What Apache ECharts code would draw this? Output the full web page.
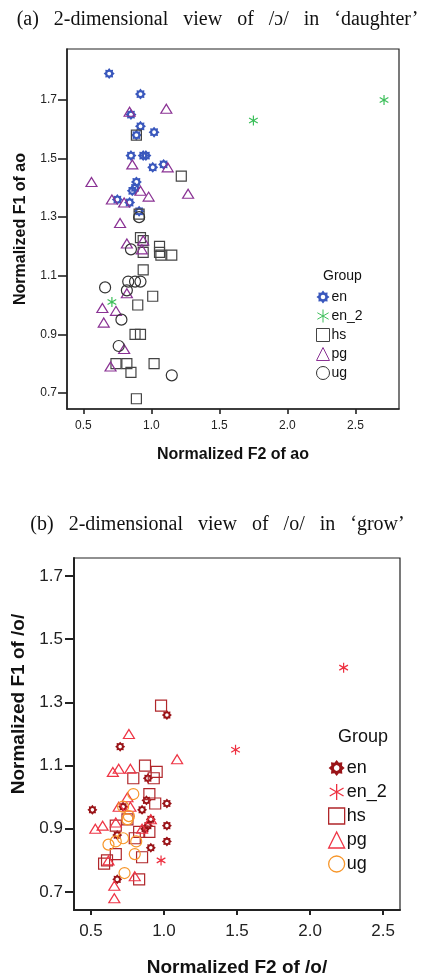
<!DOCTYPE html>
<html><head><meta charset="utf-8">
<script src="https://cdn.jsdelivr.net/npm/echarts@6/dist/echarts.min.js"></script>
<style>html,body{margin:0;padding:0;background:#fff}#c{width:435px;height:973px}</style>
</head><body><div id="c"></div>
<script>
// ---- data: chart (a) /ɔ/ in 'daughter' ----
var groups = ['en', 'en_2', 'hs', 'pg', 'ug'];
var a_en = [[0.69,1.79],[0.92,1.72],[0.85,1.65],[0.92,1.61],[1.02,1.59],[0.89,1.58],[0.85,1.51],[0.94,1.51],[0.96,1.51],[1.09,1.48],[1.01,1.47],[0.89,1.42],[0.88,1.40],[0.86,1.39],[0.75,1.36],[0.84,1.35],[0.91,1.32]];
var a_en2 = [[1.75,1.63],[2.71,1.70],[0.71,1.01]];
var a_hs = [[0.89,1.58],[1.22,1.44],[0.91,1.31],[0.92,1.23],[0.94,1.22],[0.94,1.18],[1.06,1.20],[1.06,1.18],[1.07,1.17],[1.15,1.17],[0.94,1.12],[1.01,1.03],[0.90,1.00],[0.88,0.90],[0.92,0.90],[0.74,0.80],[0.82,0.80],[1.02,0.80],[0.85,0.77],[0.89,0.68]];
var a_pg = [[0.84,1.66],[1.11,1.67],[0.86,1.48],[1.12,1.47],[0.56,1.42],[0.92,1.39],[0.98,1.37],[1.27,1.38],[0.71,1.36],[0.80,1.35],[0.77,1.28],[0.94,1.22],[0.82,1.21],[0.93,1.19],[0.82,1.04],[0.64,0.99],[0.74,0.98],[0.65,0.94],[0.80,0.85],[0.70,0.79]];
var a_ug = [[0.91,1.30],[0.85,1.19],[0.83,1.08],[0.88,1.08],[0.92,1.08],[0.66,1.06],[0.82,1.05],[0.78,0.95],[0.76,0.86],[1.15,0.76]];
// ---- data: chart (b) /o/ in 'grow' ----
var b_en = [[1.02,1.26],[0.70,1.16],[0.89,1.06],[0.88,0.99],[1.02,0.98],[0.51,0.96],[0.85,0.96],[0.72,0.97],[0.91,0.93],[0.89,0.91],[1.02,0.91],[0.87,0.90],[0.68,0.88],[1.02,0.86],[0.91,0.84],[0.68,0.74]];
var b_en2 = [[2.23,1.41],[1.49,1.15],[0.98,0.80]];
var b_hs = [[0.98,1.29],[0.87,1.10],[0.95,1.08],[0.93,1.06],[0.79,1.06],[0.90,1.01],[0.94,0.98],[0.75,0.93],[0.67,0.91],[0.90,0.89],[0.80,0.87],[0.83,0.89],[0.85,0.81],[0.67,0.82],[0.61,0.80],[0.59,0.79],[0.83,0.74]];
var b_pg = [[0.76,1.20],[1.09,1.12],[0.65,1.08],[0.69,1.09],[0.77,1.09],[0.75,1.00],[0.69,0.97],[0.77,0.97],[0.67,0.92],[0.53,0.90],[0.58,0.91],[0.91,0.93],[0.85,0.90],[0.62,0.80],[0.80,0.75],[0.66,0.72],[0.66,0.68]];
var b_ug = [[0.79,1.01],[0.72,0.97],[0.76,0.94],[0.75,0.93],[0.72,0.87],[0.67,0.86],[0.62,0.85],[0.81,0.86],[0.80,0.82],[0.73,0.76]];
// ---- tick labels ----
var xTicks = [0.5, 1.0, 1.5, 2.0, 2.5];
var yTicks = [0.7, 0.9, 1.1, 1.3, 1.5, 1.7];

var SANS = "'Liberation Sans', Arial, sans-serif";
var SERIF = "'Liberation Serif', 'Times New Roman', serif";
var GEAR = 'path://M10 0 L6.7 2.8 L7.07 7.07 L2.8 6.7 L0 10 L-2.8 6.7 L-7.07 7.07 L-6.7 2.8 L-10 0 L-6.7 -2.8 L-7.07 -7.07 L-2.8 -6.7 L0 -10 L2.8 -6.7 L7.07 -7.07 L6.7 -2.8 Z M3.6 0 L2.55 -2.55 L0 -3.6 L-2.55 -2.55 L-3.6 0 L-2.55 2.55 L0 3.6 L2.55 2.55 Z';
var AST = 'path://M0 -10 L0 10 M-8.66 -5 L8.66 5 M-8.66 5 L8.66 -5';

var colA = {en:'#3a58bd', en_2:'#3cbf5a', hs:'#444444', pg:'#8a3294', ug:'#333333'};
var colB = {en:'#9a1418', en_2:'#ee3040', hs:'#b0262a', pg:'#ee3545', ug:'#f7962a'};
var symbols = {en:GEAR, en_2:AST, hs:'rect', pg:'triangle', ug:'circle'};

function mkSeries(prefix, g, data, col, idx, sizes) {
  var filled = (g === 'en');
  return {
    type: 'scatter', name: prefix + g, xAxisIndex: idx, yAxisIndex: idx,
    data: data, symbol: symbols[g], symbolSize: sizes[g], symbolKeepAspect: true,
    itemStyle: filled ? {color: col[g], opacity: 1} : {color: 'transparent', borderColor: col[g], borderWidth: 1.2, opacity: 1},
    emphasis: {disabled: true}, z: 3
  };
}
var sizeA = {en:11, en_2:10, hs:[10,10], pg:[11,9], ug:11};
var sizeB = {en:10, en_2:10, hs:[11,11], pg:[11,9], ug:11};
var aData = {en:a_en, en_2:a_en2, hs:a_hs, pg:a_pg, ug:a_ug};
var bData = {en:b_en, en_2:b_en2, hs:b_hs, pg:b_pg, ug:b_ug};
var series = [];
groups.forEach(function(g){ series.push(mkSeries('', g, aData[g], colA, 0, sizeA)); });
groups.forEach(function(g){ series.push(mkSeries('b:', g, bData[g], colB, 1, sizeB)); });

function xAx(idx, min, max, name, fs, nfs, gap, lw, tl, mg) {
  return {type:'value', gridIndex: idx, min: min, max: max, name: name, nameLocation:'middle', nameGap: gap,
    nameTextStyle:{fontFamily:SANS, fontWeight:'bold', fontSize:nfs, color:'#111'},
    axisLine:{show:true, onZero:false, lineStyle:{color:'#222', width:lw}},
    axisTick:{show:true, customValues:xTicks, length:tl, lineStyle:{color:'#222', width:lw}},
    axisLabel:{customValues:xTicks, formatter:function(v){return v.toFixed(1);}, fontFamily:SANS, fontSize:fs, color:'#222', margin:mg},
    splitLine:{show:false}};
}
function yAx(idx, min, max, name, fs, nfs, gap, lw, tl, mg, shift) {
  return {type:'value', gridIndex: idx, min: min, max: max, name: name, nameLocation:'middle', nameGap: gap,
    nameTextStyle:{fontFamily:SANS, fontWeight:'bold', fontSize:nfs, color:'#111', padding: shift ? [0,0,0,shift] : 0},
    axisLine:{show:true, onZero:false, lineStyle:{color:'#222', width:lw}},
    axisTick:{show:true, customValues:yTicks, length:tl, lineStyle:{color:'#222', width:lw}},
    axisLabel:{customValues:yTicks, formatter:function(v){return v.toFixed(1);}, fontFamily:SANS, fontSize:fs, color:'#222', margin:mg},
    splitLine:{show:false}};
}

var legendFmt = function(n){ return n.replace('b:', ''); };
var option = {
  animation: false,
  backgroundColor: '#fff',
  title: [
    {text:'(a)   2-dimensional   view   of   /ɔ/   in   ‘daughter’', left:'center', top:5, textStyle:{fontFamily:SERIF, fontWeight:'normal', fontSize:20, color:'#111'}},
    {text:'(b)   2-dimensional   view   of   /o/   in   ‘grow’', left:'center', top:510, textStyle:{fontFamily:SERIF, fontWeight:'normal', fontSize:20, color:'#111'}},
    {text:'Group', left:318, top:264, textStyle:{fontFamily:SANS, fontWeight:'normal', fontSize:14, color:'#111'}},
    {text:'Group', left:333, top:723, textStyle:{fontFamily:SANS, fontWeight:'normal', fontSize:18, color:'#111'}}
  ],
  grid: [
    {left:67, top:49, width:332, height:360, show:true, borderColor:'#222', borderWidth:1.2, backgroundColor:'transparent', outerBoundsMode:'none', containLabel:false},
    {left:74, top:558, width:326, height:352, show:true, borderColor:'#222', borderWidth:1.2, backgroundColor:'transparent', outerBoundsMode:'none', containLabel:false}
  ],
  xAxis: [
    xAx(0, 0.38, 2.82, 'Normalized F2 of ao', 12, 16, 38, 1.6, 5, 11),
    xAx(1, 0.384, 2.616, 'Normalized F2 of /o/', 17, 19, 48, 2, 5, 13)
  ],
  yAxis: [
    yAx(0, 0.645, 1.874, 'Normalized F1 of ao', 12, 16, 38, 1.6, 9, 10, 0),
    yAx(1, 0.643, 1.757, 'Normalized F1 of /o/', 17, 19, 44, 2, 9, 11, 60)
  ],
  legend: [
    {data: groups, orient:'vertical', left:316, top:290, itemWidth:13, itemHeight:13, itemGap:5, formatter: legendFmt,
      itemStyle:{borderWidth:1},
      textStyle:{fontFamily:SANS, fontSize:14, color:'#111', padding:[0,0,0,-3]}, selectedMode:false, padding:0},
    {data: groups.map(function(g){return 'b:'+g;}), orient:'vertical', left:328, top:759, itemWidth:16, itemHeight:16, itemGap:6, formatter: legendFmt,
      itemStyle:{borderWidth:1.3},
      textStyle:{fontFamily:SANS, fontSize:18, color:'#111', padding:[0,0,0,-3]}, selectedMode:false, padding:0}
  ],
  series: series
};
var chart = echarts.init(document.getElementById('c'), null, {renderer:'canvas'});
chart.setOption(option);
</script></body></html>
